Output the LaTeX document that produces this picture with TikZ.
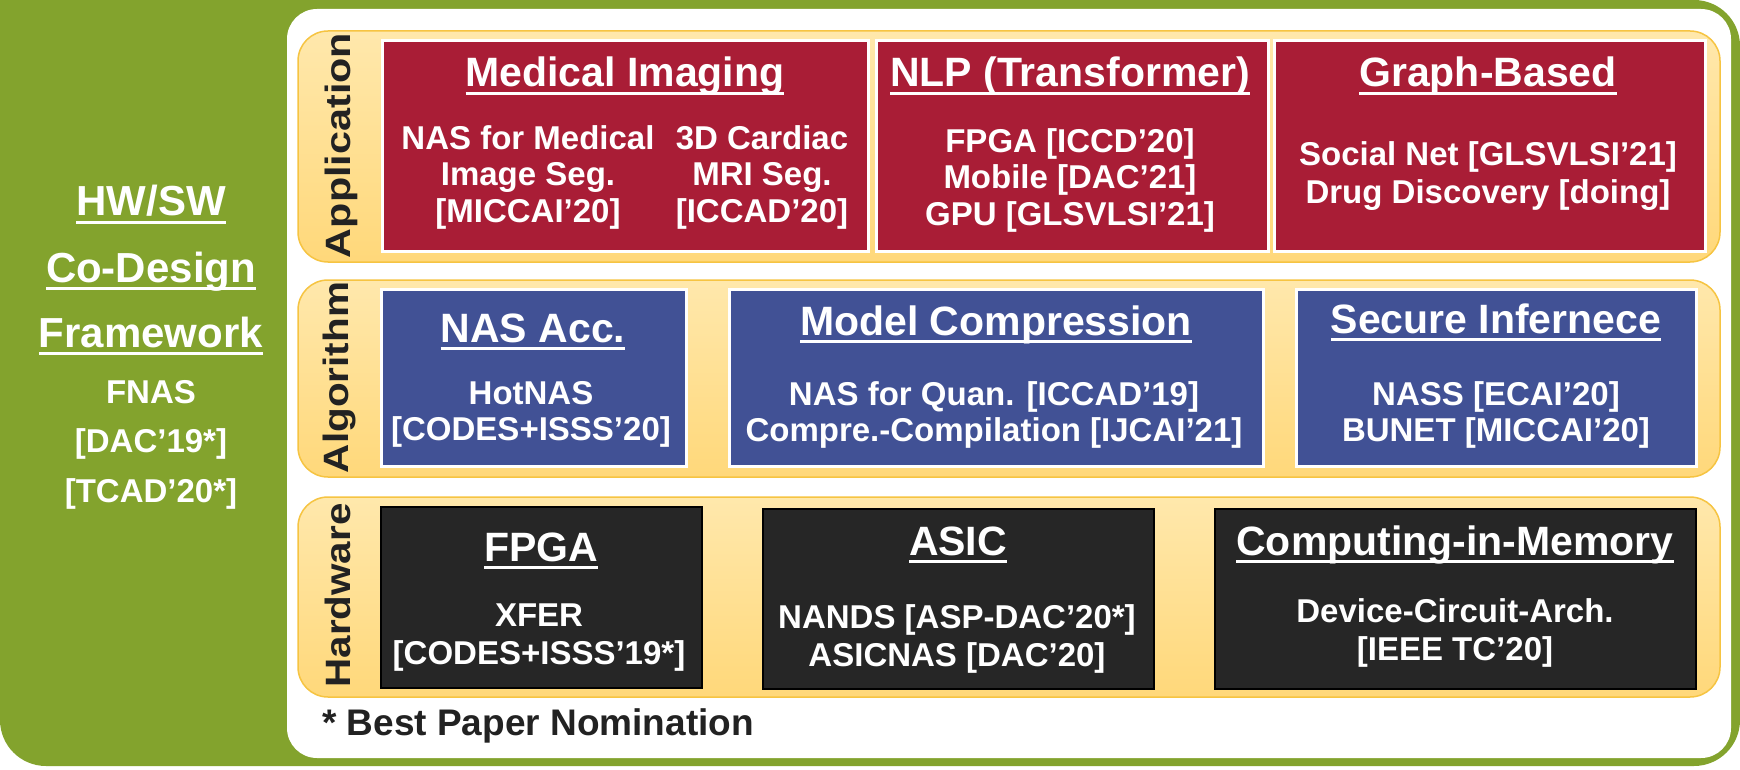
\documentclass[tikz,border=0pt]{standalone}
\usepackage{fontspec}
\setmainfont{Liberation Sans}
\usepackage{graphicx}
\definecolor{gr}{RGB}{131,163,45}
\definecolor{redc}{RGB}{169,29,54}
\definecolor{bluec}{RGB}{65,81,149}
\definecolor{darkc}{RGB}{38,38,38}
\definecolor{bandtop}{RGB}{255,232,172}
\definecolor{bandbot}{RGB}{255,216,122}
\definecolor{bandline}{RGB}{246,196,66}
\definecolor{labc}{RGB}{34,34,34}
\newcommand{\ulx}[1]{\setbox0=\hbox{#1}\rlap{\rule[-0.19em]{\wd0}{0.075em}}\box0}
\tikzset{
  band/.style={rounded corners=30pt, draw=bandline, line width=1.5pt, top color=bandtop, bottom color=bandbot},
  redbox/.style={fill=redc, draw=white, line width=3pt, inner sep=0pt, outer sep=0pt},
  bluebox/.style={fill=bluec, draw=white, line width=3pt, inner sep=0pt, outer sep=0pt},
  blackbox/.style={fill=darkc, draw=black, line width=1.5pt, inner sep=0pt, outer sep=0pt},
  hdr/.style={text=white, font=\fontsize{41}{44}\selectfont\bfseries, inner sep=0pt, anchor=base},
  body/.style={text=white, font=\fontsize{33}{36.5}\selectfont\bfseries, align=center, inner sep=0pt, anchor=north},
  bodyw/.style={text=white, font=\fontsize{33}{38}\selectfont\bfseries, align=center, inner sep=0pt, anchor=north},
  lab/.style={text=labc, font=\fontsize{35}{38}\selectfont\bfseries, rotate=90, inner sep=0pt},
  ptitle/.style={text=white, font=\fontsize{42}{44}\selectfont\bfseries, inner sep=0pt, anchor=base},
  pbody/.style={text=white, font=\fontsize{33}{36}\selectfont\bfseries, inner sep=0pt, anchor=base}
}
\begin{document}
\begin{tikzpicture}[x=1pt,y=-1pt]
\useasboundingbox (0,0) rectangle (1740,770);
\fill[white] (0,0) rectangle (1740,770);
% outer frame
\fill[gr, rounded corners=46pt] (0,0) rectangle (1740,766);
\fill[gr] (0,0) rectangle (100,100);
\fill[white, rounded corners=30pt] (287,9) rectangle (1731,758);
% left panel text
\node[ptitle] (t1) at (151,216) {\ulx{HW/SW}};
\node[ptitle] (t2) at (151,282) {\ulx{Co-Design}};
\node[ptitle] (t3) at (151,347) {\ulx{Framework}};
\node[pbody] (t4) at (151,403) {FNAS};
\node[pbody] (t5) at (151,452) {{[}DAC’19*{]}};
\node[pbody] (t6) at (151,502) {{[}TCAD’20*{]}};
% bands
\path[band] (298,31) rectangle (1720,262);
\path[band] (298,280) rectangle (1720,477);
\path[band] (298,497) rectangle (1720,697);
\node[lab] (lapp) at (341,145.5) {\resizebox{225pt}{25.5pt}{Application}};
\node[lab] (lalg) at (339,377.5) {\resizebox{191pt}{25.5pt}{Algorithm}};
\node[lab] (lhw) at (338,595.5) {\resizebox{184pt}{25.5pt}{Hardware}};
% application row
\node[redbox, minimum width=486pt, minimum height=210pt] (med) at (625,146) {};
\node[redbox, minimum width=392pt, minimum height=210pt] (nlp) at (1072,146) {};
\node[redbox, minimum width=431pt, minimum height=210pt] (gra) at (1489.5,146) {};
\node[hdr] (medh) at (625,87) {\ulx{Medical Imaging}};
\node[body] (medb1) at (528,125) {NAS for Medical\\Image Seg.\\{[}MICCAI’20{]}};
\node[body] (medb2) at (762,125) {3D Cardiac\\MRI Seg.\\{[}ICCAD’20{]}};
\node[hdr] (nlph) at (1070,87) {\ulx{NLP (Transformer)}};
\node[body] (nlpb) at (1070,128) {FPGA {[}ICCD’20{]}\\Mobile {[}DAC’21{]}\\GPU {[}GLSVLSI’21{]}};
\node[hdr] (grah) at (1488,87) {\ulx{Graph-Based}};
\node[bodyw] (grab) at (1488,141) {Social Net {[}GLSVLSI’21{]}\\Drug Discovery {[}doing{]}};
% algorithm row
\node[bluebox, minimum width=305pt, minimum height=177pt] (nas) at (533.5,377.5) {};
\node[bluebox, minimum width=534pt, minimum height=177pt] (mod) at (996,377.5) {};
\node[bluebox, minimum width=400pt, minimum height=177pt] (sec) at (1496,377.5) {};
\node[hdr] (nash) at (533,342) {\ulx{NAS Acc.}};
\node[body] (nasb) at (531,381) {HotNAS\\{[}CODES+ISSS’20{]}};
\node[hdr] (modh) at (996,335) {\ulx{Model Compression}};
\node[body] (modb) at (994,381) {NAS for Quan. {[}ICCAD’19{]}\\Compre.-Compilation {[}IJCAI’21{]}};
\node[hdr] (sech) at (1496,333) {\ulx{Secure Infernece}};
\node[body] (secb) at (1496,381) {NASS {[}ECAI’20{]}\\BUNET {[}MICCAI’20{]}};
% hardware row
\node[blackbox, minimum width=321pt, minimum height=181pt] (fpga) at (541.5,597.5) {};
\node[blackbox, minimum width=391pt, minimum height=180pt] (asic) at (958.5,599) {};
\node[blackbox, minimum width=481pt, minimum height=180pt] (cim) at (1455.5,599) {};
\node[hdr] (fpgah) at (541,561) {\ulx{FPGA}};
\node[bodyw] (fpgab) at (539,604) {XFER\\{[}CODES+ISSS’19*{]}};
\node[hdr] (asich) at (958,555) {\ulx{ASIC}};
\node[bodyw] (asicb) at (957,604) {NANDS {[}ASP-DAC’20*{]}\\ASICNAS {[}DAC’20{]}};
\node[hdr] (cimh) at (1455,555) {\ulx{Computing-in-Memory}};
\node[bodyw] (cimb) at (1455,598) {Device-Circuit-Arch.\\{[}IEEE TC’20{]}};
% footnote
\node[text=labc, font=\fontsize{37}{40}\selectfont\bfseries, inner sep=0pt, anchor=base west] (note) at (322,735) {* Best Paper Nomination};
\end{tikzpicture}
\end{document}
